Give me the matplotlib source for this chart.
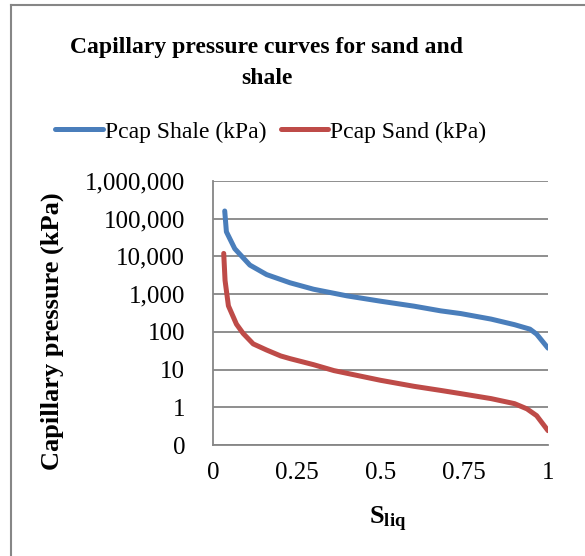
import numpy as np
import matplotlib
matplotlib.use("Agg")
import matplotlib.pyplot as plt
from matplotlib.ticker import FixedLocator, FuncFormatter

plt.rcParams['font.family'] = ['Liberation Serif', 'DejaVu Serif']
plt.rcParams['mathtext.fontset'] = 'custom'
plt.rcParams['mathtext.bf'] = 'Liberation Serif:bold'
plt.rcParams['mathtext.rm'] = 'Liberation Serif'

# liquid saturation vs capillary pressure (kPa)
s_shale = [0.035, 0.04, 0.065, 0.11, 0.16, 0.23, 0.3, 0.4, 0.5,
           0.6, 0.68, 0.74, 0.83, 0.9, 0.946, 0.966, 1.0]
p_shale = [160000, 45000, 16000, 5900, 3300, 2000, 1350, 900, 650,
           480, 360, 305, 218, 155, 118, 87, 37]

s_sand = [0.032, 0.036, 0.046, 0.07, 0.09, 0.12, 0.16, 0.202, 0.23, 0.3,
          0.361, 0.5, 0.6, 0.68, 0.74, 0.83, 0.9, 0.937, 0.966, 1.0]
p_sand = [12000, 2300, 490, 160, 91, 48, 33, 23, 19.5, 13.5,
          9.4, 5.2, 3.6, 2.8, 2.3, 1.7, 1.25, 0.91, 0.6, 0.24]

y_ticks = [0.1, 1, 10, 100, 1000, 10000, 100000, 1000000]
x_ticks = [0, 0.25, 0.5, 0.75, 1]
x_labels = ['0', '0.25', '0.5', '0.75', '1']

blue = '#4A7EBB'
red = '#BE4B48'
grid_col = '#868686'

fig = plt.figure(figsize=(5.85, 5.56), dpi=100)
ax = fig.add_axes([0.3641, 0.1996, 0.5727, 0.4749])

ax.plot(s_shale, p_shale, color=blue, lw=3.6, solid_capstyle='round',
        solid_joinstyle='round', label='Pcap Shale (kPa)')
ax.plot(s_sand, p_sand, color=red, lw=3.6, solid_capstyle='round',
        solid_joinstyle='round', label='Pcap Sand (kPa)')

ax.set_yscale('log')
ax.set_ylim(0.1, 1000000)
ax.set_xlim(0, 1)
ax.yaxis.set_major_locator(FixedLocator(y_ticks))
ax.yaxis.set_minor_locator(FixedLocator([]))
ax.yaxis.set_major_formatter(FuncFormatter(lambda v, p: f"{v:,.0f}"))
ax.set_xticks(x_ticks)
ax.set_xticklabels(x_labels)

ax.grid(axis='y', color=grid_col, lw=1.3)
ax.set_axisbelow(True)
for side in ['top', 'right']:
    ax.spines[side].set_visible(False)
for side in ['left', 'bottom']:
    ax.spines[side].set_color(grid_col)
    ax.spines[side].set_linewidth(1.3)
ax.tick_params(axis='y', length=0, pad=20, labelsize=18)
ax.tick_params(axis='x', length=0, pad=12, labelsize=18)

ax.set_ylabel('Capillary pressure (kPa)', fontsize=19, fontweight='bold')
ax.yaxis.set_label_coords(-0.445, 0.43)
ax.set_xlabel(r'$\mathbf{S_{liq}}$', fontsize=19)
ax.xaxis.set_label_coords(0.52, -0.225)

fig.text(0.456, 0.887, 'Capillary pressure curves for sand and\nshale',
         ha='center', va='center', fontsize=17, fontweight='bold',
         linespacing=1.65)

fig.legend(loc='center', bbox_to_anchor=(0.463, 0.763), ncol=2, frameon=False,
           fontsize=17, handlelength=2.0, handletextpad=0.1, columnspacing=0.6)

# chart area border (top and left edges)
fig.add_artist(plt.Line2D([0.019, 0.019], [0, 0.991], color=grid_col, lw=1.5,
                          transform=fig.transFigure))
fig.add_artist(plt.Line2D([0.019, 1.0], [0.991, 0.991], color=grid_col, lw=1.5,
                          transform=fig.transFigure))

fig.savefig('out.png', dpi=100)
